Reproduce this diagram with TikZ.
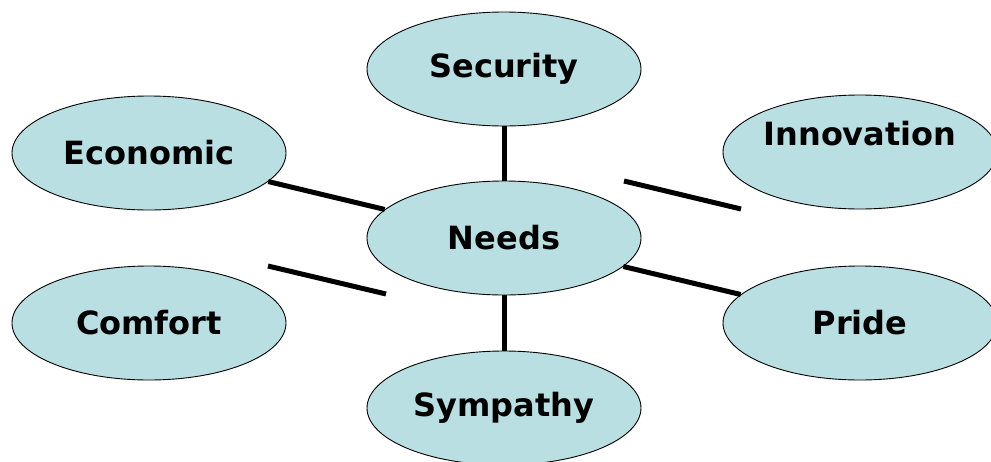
\documentclass[tikz,border=0pt]{standalone}
\usepackage{fontspec}
\setmainfont{DejaVu Sans}
\usetikzlibrary{shapes.geometric}
\definecolor{bubble}{RGB}{186,223,227}
\tikzset{
  bubble/.style={ellipse, draw=black, line width=0.9pt, fill=bubble,
    minimum width=274pt, minimum height=114pt, inner sep=0pt,
    font=\fontsize{32}{36}\selectfont\bfseries},
  link/.style={line width=5pt}
}
\begin{document}
\begin{tikzpicture}[x=1pt,y=-1pt]
\useasboundingbox (0,0) rectangle (991,461);
\clip (0,0) rectangle (991,461);
\node[bubble] (sec) at (504,69) {Security};
\node[bubble] (eco) at (149,153) {Economic};
\node[bubble, label={[yshift=18pt,font=\fontsize{32}{36}\selectfont\bfseries]center:Innovation}] (inn) at (860,152) {};
\node[bubble] (needs) at (504,238) {Needs};
\node[bubble] (com) at (149,323) {Comfort};
\node[bubble] (pri) at (860,323) {Pride};
\node[bubble] (sym) at (504,408) {Sympathy};
\coordinate (c1) at (268,266);
\coordinate (c2) at (386,294);
\coordinate (i1) at (624,181);
\coordinate (i2) at (741,209);
\draw[link] (sec) -- (needs);
\draw[link] (needs) -- (sym);
\draw[link] (eco) -- (needs);
\draw[link] (needs) -- (pri);
\draw[link] (c1) -- (c2);
\draw[link] (i1) -- (i2);
\end{tikzpicture}
\end{document}
